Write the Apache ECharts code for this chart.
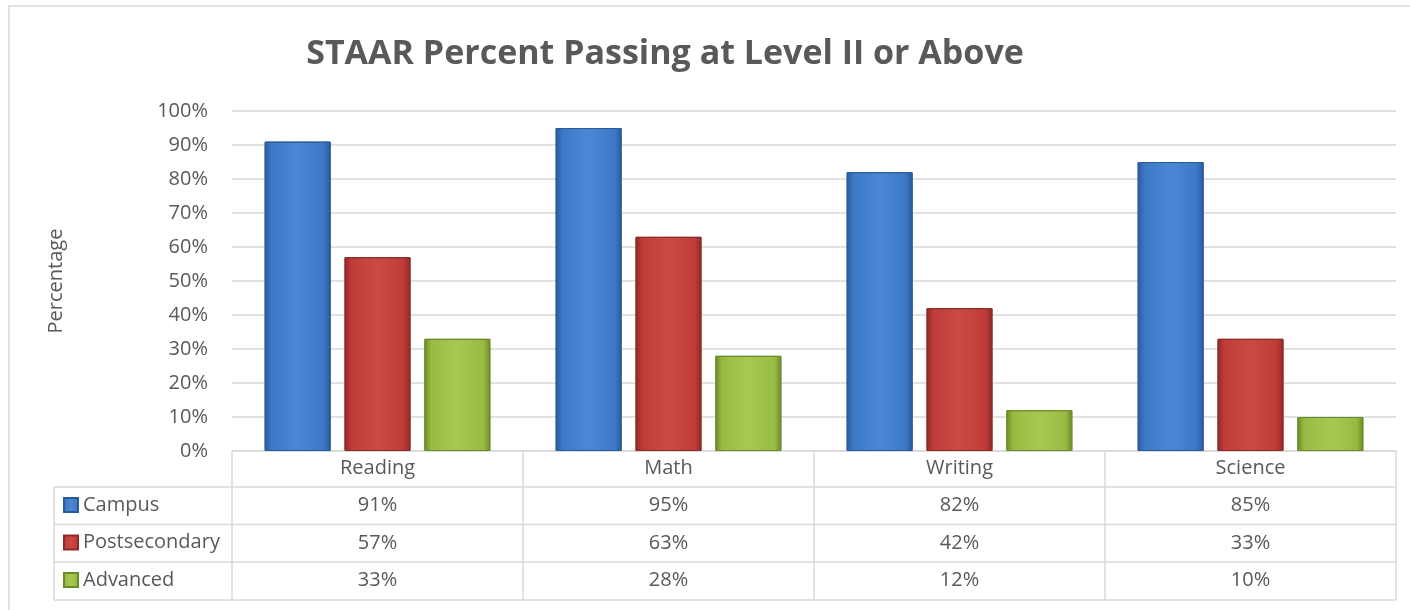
<!DOCTYPE html>
<html>
<head>
<meta charset="utf-8">
<script src="https://cdn.jsdelivr.net/npm/echarts@6/dist/echarts.min.js"></script>
<style>
  html, body { margin: 0; padding: 0; background: #fff; }
  #chart { width: 1410px; height: 610px; }
</style>
</head>
<body>
<div id="chart"></div>
<script>
const titleText = 'STAAR Percent Passing at Level II or Above';
const categories = ['Reading', 'Math', 'Writing', 'Science'];
const seriesNames = ['Campus', 'Postsecondary', 'Advanced'];
const campus = [91, 95, 82, 85];
const postsecondary = [57, 63, 42, 33];
const advanced = [33, 28, 12, 10];
const yTicks = [0, 10, 20, 30, 40, 50, 60, 70, 80, 90, 100];

const seriesValues = [campus, postsecondary, advanced];
const palettes = [
  { edge: '#2a5a99', mid: '#3b78c6', light: '#4a88d6' },
  { edge: '#8c2a28', mid: '#bf3b38', light: '#cc4a46' },
  { edge: '#6b8a2a', mid: '#98ba42', light: '#a8c852' }
];

function grad(p) {
  return new echarts.graphic.LinearGradient(0, 0, 1, 0, [
    { offset: 0, color: p.edge },
    { offset: 0.1, color: p.mid },
    { offset: 0.5, color: p.light },
    { offset: 0.9, color: p.mid },
    { offset: 1, color: p.edge }
  ]);
}

const font = '"Open Sans", "Noto Sans", sans-serif';
const textColor = '#595959';
const lineColor = '#d9d9d9';

const chart = echarts.init(document.getElementById('chart'), null, { renderer: 'canvas' });

const tableLines = [];
const rowYs = [487, 524.5, 562, 600];
rowYs.forEach(y => {
  tableLines.push({ type: 'line', shape: { x1: 54, y1: y, x2: 1396, y2: y }, style: { stroke: lineColor, lineWidth: 1.5 } });
});
tableLines.push({ type: 'line', shape: { x1: 54, y1: 487, x2: 54, y2: 600 }, style: { stroke: lineColor, lineWidth: 1.5 } });

const option = {
  backgroundColor: '#ffffff',
  textStyle: { fontFamily: font },
  title: {
    text: titleText,
    left: 660,
    top: 32,
    textAlign: 'center',
    textStyle: { fontFamily: font, fontSize: 34, fontWeight: 'bold', color: textColor }
  },
  legend: {
    orient: 'vertical',
    left: 63,
    top: 495,
    padding: 0,
    itemGap: 17.5,
    itemWidth: 14,
    itemHeight: 14,
    icon: 'rect',
    selectedMode: false,
    textStyle: { fontFamily: font, fontSize: 20, color: textColor, lineHeight: 20 },
    data: seriesNames
  },
  grid: { left: 232, right: 14, top: 111, bottom: 159, containLabel: false },
  xAxis: {
    type: 'category',
    data: categories,
    axisLine: { show: true, lineStyle: { color: lineColor, width: 1.5 } },
    axisTick: { show: true, length: 149, lineStyle: { color: lineColor, width: 1.5 } },
    axisLabel: {
      margin: -2,
      fontFamily: font,
      fontSize: 20,
      color: textColor,
      lineHeight: 37.6,
      formatter: function (val, idx) {
        const lines = [val];
        seriesValues.forEach(arr => lines.push(arr[idx] + '%'));
        return lines.join('\n');
      }
    }
  },
  yAxis: {
    type: 'value',
    min: yTicks[0],
    max: yTicks[yTicks.length - 1],
    interval: yTicks[1] - yTicks[0],
    name: 'Percentage',
    nameLocation: 'middle',
    nameRotate: 90,
    nameGap: 166,
    nameTextStyle: { fontFamily: font, fontSize: 20, color: textColor },
    axisLine: { show: false },
    axisTick: { show: false },
    axisLabel: { margin: 24, fontFamily: font, fontSize: 20, color: textColor, formatter: '{value}%' },
    splitLine: { lineStyle: { color: lineColor, width: 1.5 } }
  },
  series: seriesNames.map((name, i) => ({
    name: name,
    type: 'bar',
    data: seriesValues[i],
    barWidth: 66,
    barGap: '21%',
    itemStyle: { color: grad(palettes[i]), borderColor: palettes[i].edge, borderWidth: 1 },
    emphasis: { disabled: true }
  })),
  graphic: [
    { type: 'rect', shape: { x: 9, y: 6, width: 1500, height: 800 }, style: { fill: 'none', stroke: lineColor, lineWidth: 1.5 }, silent: true }
  ].concat(tableLines)
};

chart.setOption(option);
</script>
</body>
</html>
